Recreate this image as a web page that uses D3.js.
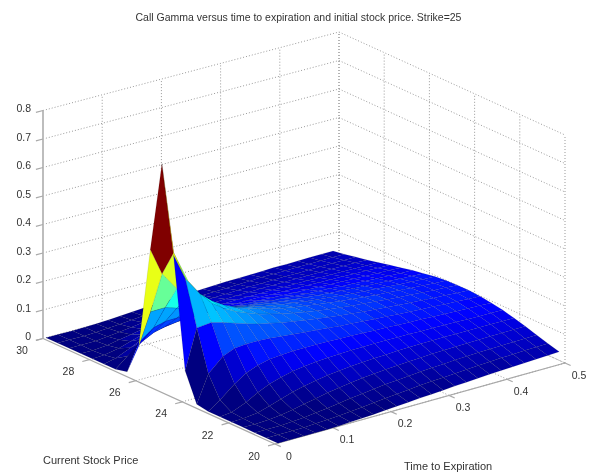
<!DOCTYPE html>
<html>
  <head>
    <meta charset="utf-8">
    <style>
      html, body { margin: 0; padding: 0; background: #fff; }
      svg { display: block; filter: blur(0.55px); }
      text { font-family: "Liberation Sans", Arial, sans-serif; fill: #333; }
    </style>
    <script src="https://d3js.org/d3.v7.min.js"></script>
    <title>Call Gamma surface</title>
  </head>
  <body>
    <div id="chart"></div>
    <script>
    // values, the smooth rows use the usual gamma shape as a guide
    const stockPrices = [20,20.5,21,21.5,22,22.5,23,23.5,24,24.5,25,25.5,26,26.5,27,27.5,28,28.5,29,29.5,30]
    const times = [.005,.025,.05,.07,.09,.11,.13,.15,.17,.19,.21,.23,.25,.27,.29,.31,.33,.35,.37,.39,.41,.43,.45,.47,.49]
    // one row per time, one column per stock price
    const gamma = [
      [0,0,0,0,0,0,0,.007,.106,.493,.795,.476,.118,.010,0,0,0,0,0,0,0],
      [0,0,0,0,.001,.005,.029,.103,.245,.400,.472,.380,.228,.102,.035,.009,.002,0,0,0,0],
      [0,0,0,.002,.007,.026,.071,.150,.250,.332,.357,.314,.229,.140,.072,.032,.012,.004,.001,0,0],
      [0,0,.002,.007,.020,.049,.099,.167,.239,.289,.302,.273,.216,.151,.093,.052,.026,.012,.005,.002,.001],
      [0,.002,.005,.014,.033,.067,.115,.171,.225,.259,.266,.245,.202,.152,.104,.065,.038,.020,.010,.005,.002],
      [.001,.004,.010,.023,.046,.080,.124,.171,.212,.237,.241,.224,.190,.150,.109,.074,.047,.028,.016,.008,.004],
      [.003,.007,.015,.031,.056,.089,.128,.168,.200,.220,.221,.207,.180,.146,.112,.080,.054,.035,.021,.012,.007],
      [.005,.010,.021,.039,.064,.096,.131,.164,.191,.205,.206,.194,.171,.142,.112,.084,.060,.040,.026,.016,.010],
      [.007,.014,.027,.046,.071,.100,.131,.160,.182,.194,.194,.182,.163,.138,.112,.086,.064,.045,.031,.020,.013],
      [.010,.018,.032,.052,.076,.103,.131,.156,.175,.184,.183,.173,.156,.134,.110,.087,.066,.049,.034,.024,.016],
      [.013,.023,.037,.057,.080,.105,.130,.152,.168,.175,.174,.165,.150,.130,.109,.088,.068,.052,.038,.027,.018],
      [.016,.026,.042,.061,.083,.107,.129,.148,.162,.168,.166,.158,.144,.127,.108,.088,.070,.054,.040,.029,.021],
      [.019,.030,.045,.064,.086,.107,.128,.144,.156,.161,.160,.152,.139,.123,.106,.088,.071,.056,.043,.032,.023],
      [.021,.034,.049,.067,.087,.108,.126,.141,.151,.155,.154,.146,.135,.120,.104,.088,.072,.057,.044,.034,.025],
      [.024,.037,.052,.070,.089,.108,.124,.138,.147,.150,.148,.141,.131,.117,.102,.087,.072,.058,.046,.035,.027],
      [.027,.039,.055,.072,.090,.107,.123,.135,.142,.145,.143,.137,.127,.114,.100,.086,.072,.059,.047,.037,.029],
      [.029,.042,.057,.074,.091,.107,.121,.132,.139,.141,.139,.133,.124,.112,.099,.085,.072,.060,.048,.038,.030],
      [.032,.044,.059,.075,.091,.106,.119,.129,.135,.137,.135,.129,.120,.110,.097,.085,.072,.060,.049,.040,.031],
      [.034,.047,.061,.076,.092,.106,.118,.126,.132,.133,.131,.126,.117,.107,.096,.084,.072,.060,.050,.041,.032],
      [.036,.049,.063,.077,.092,.105,.116,.124,.129,.130,.128,.123,.115,.105,.094,.083,.071,.061,.050,.041,.034],
      [.038,.051,.064,.078,.092,.104,.114,.122,.126,.127,.125,.120,.112,.103,.093,.082,.071,.061,.051,.042,.034],
      [.040,.052,.065,.079,.092,.103,.113,.119,.123,.124,.122,.117,.110,.101,.091,.081,.071,.061,.051,.043,.035],
      [.042,.054,.066,.079,.092,.102,.111,.117,.121,.121,.119,.114,.107,.099,.090,.080,.070,.061,.052,.043,.036],
      [.043,.055,.067,.080,.091,.102,.110,.115,.118,.119,.116,.112,.105,.097,.089,.079,.070,.061,.052,.044,.037],
      [.045,.056,.068,.080,.091,.101,.108,.113,.116,.116,.114,.110,.103,.096,.087,.078,.069,.060,.052,.044,.037]
    ]
    const stockTicks = [20,22,24,26,28,30]
    const timeTicks = [0,.1,.2,.3,.4,.5]
    const gammaTicks = [0,.1,.2,.3,.4,.5,.6,.7,.8]
    const title = "Call Gamma versus time to expiration and initial stock price. Strike=25"

    const width = 590, height = 475

    // floor corners of the box on the page
    const corners = {
      s30t0: [43, 338.5], s20t0: [275, 444],
      s30t5: [339, 260], s20t5: [565, 363]
    }
    const u = d3.scaleLinear().domain([30, 20]).range([0, 1])
    const v = d3.scaleLinear().domain([0, .5]).range([0, 1])
    const h = d3.scaleLinear().domain([0, .8]).range([0, 228])

    // bilinear on the floor, then straight up for gamma
    function project(s, t, z) {
      const a = u(s), b = v(t)
      const x = (1-a)*(1-b)*corners.s30t0[0] + a*(1-b)*corners.s20t0[0] + (1-a)*b*corners.s30t5[0] + a*b*corners.s20t5[0]
      const y = (1-a)*(1-b)*corners.s30t0[1] + a*(1-b)*corners.s20t0[1] + (1-a)*b*corners.s30t5[1] + a*b*corners.s20t5[1]
      return [x, y - h(z || 0)]
    }

    // matlab jet, 64 steps
    const jetScale = d3.scaleLinear()
      .domain([0, .125, .375, .625, .875, 1])
      .range(["#000080", "#0000ff", "#00ffff", "#ffff00", "#ff0000", "#800000"])
      .clamp(true)
    const colorMax = d3.max(gamma.flat())
    function jet(z) {
      return jetScale(Math.min(63, Math.floor(z / colorMax * 64)) / 63)
    }

    const svg = d3.select("#chart").append("svg")
      .attr("width", width)
      .attr("height", height)

    const line = d3.line()

    function seg(g, a, b) {
      return g.append("path").attr("d", line([a, b])).attr("fill", "none")
    }

    // dotted grid on the two back walls and the floor
    const grid = svg.append("g")
      .attr("stroke", "#999")
      .attr("stroke-width", 1)
      .attr("stroke-dasharray", "1 2")
    gammaTicks.forEach(function(z) {
      seg(grid, project(30, 0, z), project(30, .5, z))
      seg(grid, project(30, .5, z), project(20, .5, z))
    })
    timeTicks.slice(1).forEach(function(t) {
      seg(grid, project(30, t, 0), project(30, t, .8))
      seg(grid, project(20, t, 0), project(30, t, 0))
    })
    stockTicks.forEach(function(s) {
      seg(grid, project(s, .5, 0), project(s, .5, .8))
      if (s < 30) seg(grid, project(s, 0, 0), project(s, .5, 0))
    })

    // axes
    const axes = svg.append("g").attr("stroke", "#a9a9a9").attr("stroke-width", 1.2)
    seg(axes, project(30, 0, 0), project(30, 0, .8)).attr("stroke-width", 2).attr("stroke", "#bdbdbd")
    seg(axes, project(30, 0, 0), project(20, 0, 0))
    seg(axes, project(20, 0, 0), project(20, .5, 0))

    gammaTicks.forEach(function(z) {
      seg(axes, project(30, 0, z), project(30, -.012, z))
      const p = project(30, 0, z)
      svg.append("text").attr("x", 31).attr("y", p[1] - 2).attr("dy", "0.35em")
        .attr("text-anchor", "end").attr("font-size", 10.5).text(z === 0 ? "0" : d3.format(".1f")(z))
    })
    stockTicks.forEach(function(s) {
      seg(axes, project(s, 0, 0), project(s, -.012, 0))
      const p = project(s, 0, 0)
      svg.append("text").attr("x", p[0] - 21).attr("y", p[1] + 12).attr("dy", "0.35em")
        .attr("text-anchor", "middle").attr("font-size", 10.5).text(s)
    })
    timeTicks.forEach(function(t) {
      seg(axes, project(20, t, 0), project(19.75, t, 0))
      const p = project(20, t, 0)
      svg.append("text").attr("x", p[0] + 14).attr("y", p[1] + 12).attr("dy", "0.35em")
        .attr("text-anchor", "middle").attr("font-size", 10.5).text(t === 0 ? "0" : d3.format(".1f")(t))
    })

    // surface, far corner first so nearer facets paint over
    const surface = svg.append("g")
      .attr("stroke", "#000")
      .attr("stroke-width", 0.35)
      .attr("stroke-opacity", 0.25)
      .attr("stroke-linejoin", "round")
    for (let j = times.length - 2; j >= 0; j--) {
      for (let i = stockPrices.length - 2; i >= 0; i--) {
        const pts = [
          project(stockPrices[i], times[j], gamma[j][i]),
          project(stockPrices[i+1], times[j], gamma[j][i+1]),
          project(stockPrices[i+1], times[j+1], gamma[j+1][i+1]),
          project(stockPrices[i], times[j+1], gamma[j+1][i])
        ]
        surface.append("path").attr("d", line(pts) + "Z").attr("fill", jet(gamma[j][i]))
      }
    }

    svg.append("text").attr("x", 298.5).attr("y", 21)
      .attr("text-anchor", "middle").attr("font-size", 10.5).text(title)
    svg.append("text").attr("x", 43).attr("y", 464).attr("font-size", 11).text("Current Stock Price")
    svg.append("text").attr("x", 404).attr("y", 470).attr("font-size", 11).text("Time to Expiration")
    </script>
  </body>
</html>
